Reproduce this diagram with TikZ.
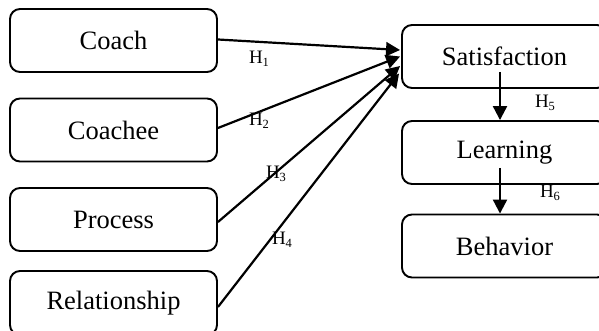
\documentclass[tikz,border=0pt]{standalone}
\usepackage{fontspec}
\setmainfont{Liberation Serif}
\usetikzlibrary{arrows.meta,calc}
\newcommand{\hlab}[1]{\fontsize{19}{21}\selectfont H\raisebox{-3.5pt}{\fontsize{12.5}{14}\selectfont #1}}
\tikzset{
  box/.style={draw, line width=1.9pt, rounded corners=10pt, minimum height=63pt, inner sep=0pt, font=\fontsize{26.5}{30}\selectfont},
  leftbox/.style={box, minimum width=207pt},
  rightbox/.style={box, minimum width=205pt},
  conn/.style={line width=2.2pt, -{Triangle[length=14pt,width=14pt]}},
  hl/.style={inner sep=0pt}
}
\begin{document}
\begin{tikzpicture}[x=1pt,y=-1pt]
\path[clip] (0,0) rectangle (599,331);
\useasboundingbox (0,0) rectangle (599,331);
\node[leftbox] (coach) at (113.5,40.5) {Coach};
\node[leftbox] (coachee) at (113.5,130) {Coachee};
\node[leftbox] (process) at (113.5,219.5) {Process};
\node[leftbox, minimum height=64pt] (rel) at (113.5,303) {Relationship};
\node[rightbox] (sat) at (504.5,56.5) {Satisfaction};
\node[rightbox] (learn) at (504.5,152.5) {Learning};
\node[rightbox] (beh) at (504.5,246) {Behavior};
\draw[conn] ($(coach.east)+(0,-1)$) -- ($(sat.west)+(-1,-6.5)$);
\draw[conn] ($(coachee.east)+(0,-2)$) -- ($(sat.west)+(-1,0)$);
\draw[conn] ($(process.east)+(0,2.5)$) -- ($(sat.west)+(-1,9.5)$);
\draw[conn] ($(rel.east)+(0,4)$) -- ($(sat.west)+(-2,17)$);
\coordinate (s5) at (500,72);
\coordinate (s6) at (500,168);
\draw[conn] (s5) -- (s5 |- learn.north);
\draw[conn] (s6) -- (s6 |- beh.north);
\node[hl] (h1) at (259,59) {\hlab{1}};
\node[hl] (h2) at (259,121) {\hlab{2}};
\node[hl] (h3) at (276,174) {\hlab{3}};
\node[hl] (h4) at (282,240) {\hlab{4}};
\node[hl] (h5) at (545,103) {\hlab{5}};
\node[hl] (h6) at (550,193) {\hlab{6}};
\end{tikzpicture}
\end{document}
